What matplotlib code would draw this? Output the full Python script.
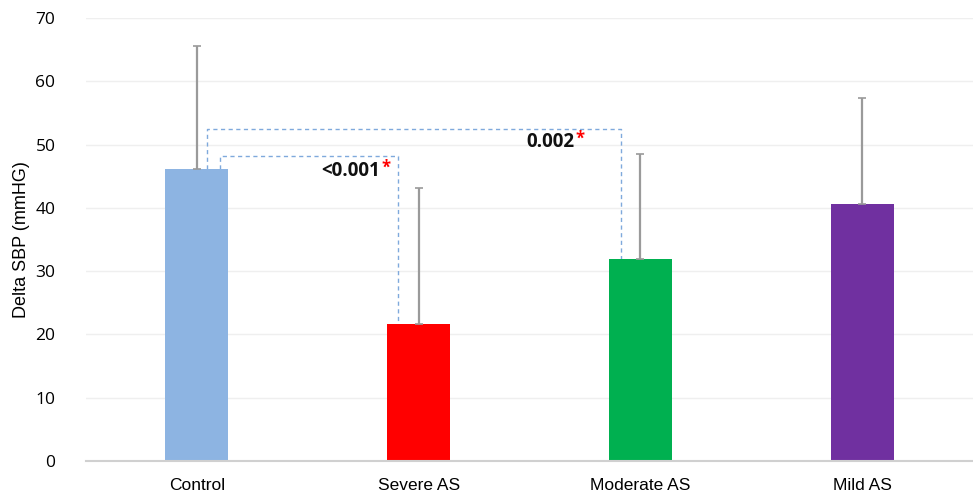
import matplotlib.pyplot as plt

groups = ["Control", "Severe AS", "Moderate AS", "Mild AS"]
delta_sbp = [46.1, 21.6, 31.9, 40.6]
delta_sd = [19.5, 21.5, 16.6, 16.8]
bar_colors = ["#8DB4E2", "#FF0000", "#00B050", "#7030A0"]

# significance brackets: (from group, to group, bracket height, p-value text)
brackets = [(0, 1, 48.2, "<0.001"), (0, 2, 52.5, "0.002")]
# where each p-value text sits (x in category units, y in mmHg)
p_text_pos = [(0.695, 45.8), (1.595, 50.4)]

fig = plt.figure(figsize=(9.73, 4.92), dpi=100)
ax = fig.add_axes([0.0884, 0.063, 0.9116, 0.9])

x = range(len(groups))
ax.bar(x, delta_sbp, width=0.285, color=bar_colors, zorder=2)
ax.errorbar(x, delta_sbp, yerr=[[0] * len(delta_sd), delta_sd], fmt="none",
            ecolor="#9A9A9A", elinewidth=1.6, capsize=3, capthick=1.2, zorder=3)

# dashed brackets between control and the AS groups
dash = dict(color="#7FA9DC", lw=1, ls=(0, (3, 2.5)), zorder=1)
offsets = {48.2: (0.104, -0.093), 52.5: (0.045, -0.088)}
for (i, j, h, p), (tx, ty) in zip(brackets, p_text_pos):
    lo, hi = offsets[h]
    xl, xr = i + lo, j + hi
    ax.plot([xl, xl, xr, xr], [delta_sbp[i], h, h, delta_sbp[j]], **dash)
    t = ax.text(tx, ty, p, ha="center", va="center", fontsize=13.5,
                fontweight="bold", family="Open Sans", color="#111111")
    ax.annotate("*", xy=(1, 1), xycoords=t, xytext=(0.5, 2), textcoords="offset points",
                ha="left", va="top", fontsize=12, fontweight="bold",
                color="#FF0000", family="Open Sans")

ax.set_xlim(-0.5, 3.5)
ax.set_ylim(0, 70)
ax.set_yticks(range(0, 71, 10))
ax.set_xticks(list(x))
ax.set_xticklabels(groups, fontsize=12.5, family=["Liberation Sans Narrow", "Liberation Sans"])
ax.tick_params(axis="y", length=0, pad=22, labelsize=12.5)
ax.tick_params(axis="x", length=0, pad=12)
for lab in ax.get_yticklabels():
    lab.set_family("Open Sans")

ax.set_ylabel("Delta SBP (mmHG)", fontsize=13, family="Liberation Sans", labelpad=4)
ax.grid(axis="y", color="#EFEFEF", lw=1, zorder=0)
ax.set_axisbelow(True)
for side in ["top", "right", "left"]:
    ax.spines[side].set_visible(False)
ax.spines["bottom"].set_color("#D0D0D0")
ax.spines["bottom"].set_linewidth(1.5)

fig.savefig("out.png", dpi=100)
